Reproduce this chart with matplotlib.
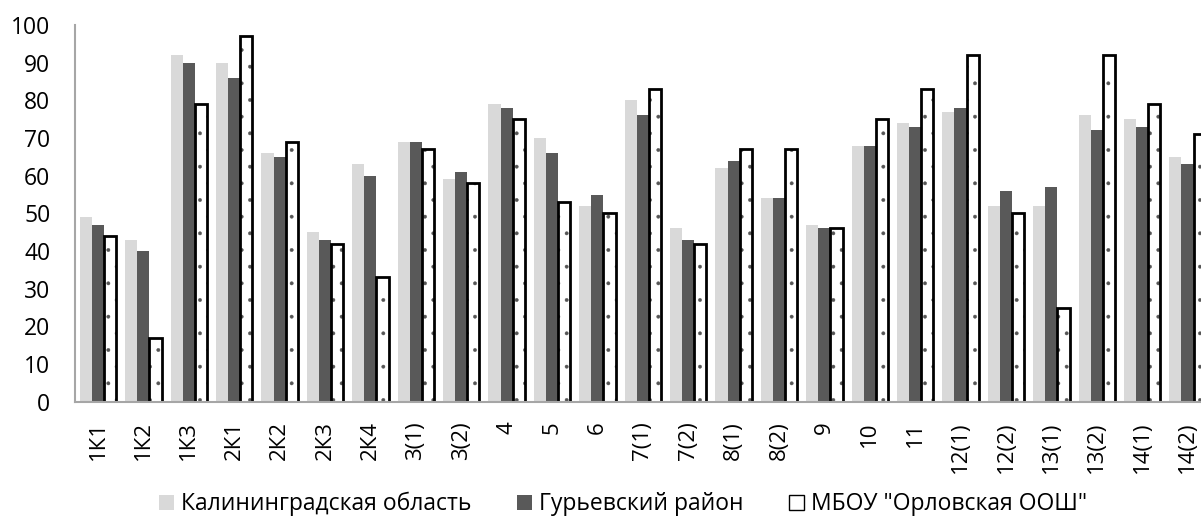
import numpy as np
import matplotlib
matplotlib.use("Agg")
import matplotlib.pyplot as plt
from matplotlib.patches import Patch

plt.rcParams["font.family"] = ["Open Sans", "DejaVu Sans"]
plt.rcParams["hatch.linewidth"] = 0.3

# --- data ---
categories = ["1К1", "1К2", "1К3", "2К1", "2К2", "2К3", "2К4", "3(1)", "3(2)", "4", "5", "6",
              "7(1)", "7(2)", "8(1)", "8(2)", "9", "10", "11", "12(1)", "12(2)", "13(1)",
              "13(2)", "14(1)", "14(2)"]
region = [49, 43, 92, 90, 66, 45, 63, 69, 59, 79, 70, 52, 80, 46, 62, 54, 47, 68, 74, 77,
          52, 52, 76, 75, 65]
district = [47, 40, 90, 86, 65, 43, 60, 69, 61, 78, 66, 55, 76, 43, 64, 54, 46, 68, 73, 78,
            56, 57, 72, 73, 63]
school = [44, 17, 79, 97, 69, 42, 33, 67, 58, 75, 53, 50, 83, 42, 67, 67, 46, 75, 83, 92,
          50, 25, 92, 79, 71]
series_names = ["Калининградская область", "Гурьевский район", 'МБОУ "Орловская ООШ"']

fig = plt.figure(figsize=(12.01, 5.17), dpi=100)
# plot area runs a little past the right edge, as in the reference
ax = fig.add_axes([0.0627, 0.223, 0.945, 0.7286])

x = np.arange(len(categories))
w = 0.267
ax.bar(x - w, region, w, color="#D9D9D9", linewidth=0)
ax.bar(x, district, w, color="#595959", linewidth=0)
# dotted fill in grey, then the black outline on top
ax.bar(x + w, school, w, facecolor="white", edgecolor="#555555", linewidth=0,
       hatch=".")
ax.bar(x + w, school, w, fill=False, edgecolor="black", linewidth=2)

ax.set_xlim(-0.5, len(categories) - 0.5)
ax.set_ylim(0, 100)
ax.set_yticks(range(0, 101, 10))
ax.set_xticks(x)
ax.set_xticklabels(categories, rotation=90, fontsize=16)
ax.tick_params(axis="y", length=0, pad=18, labelsize=16.5)
ax.tick_params(axis="x", length=0, pad=14)

for s in ["top", "right"]:
    ax.spines[s].set_visible(False)
for s in ["left", "bottom"]:
    ax.spines[s].set_color("#A6A6A6")
    ax.spines[s].set_linewidth(1.5)

handles = [
    Patch(facecolor="#D9D9D9", edgecolor="none"),
    Patch(facecolor="#595959", edgecolor="none"),
    Patch(facecolor="white", edgecolor="black", linewidth=1),
]
fig.legend(handles, series_names, loc="center", bbox_to_anchor=(0.519, 0.025),
           ncol=3, frameon=False, fontsize=16.5, handlelength=0.65, handleheight=0.65,
           handletextpad=0.3, columnspacing=2.0)

fig.savefig("out.png", dpi=100)
